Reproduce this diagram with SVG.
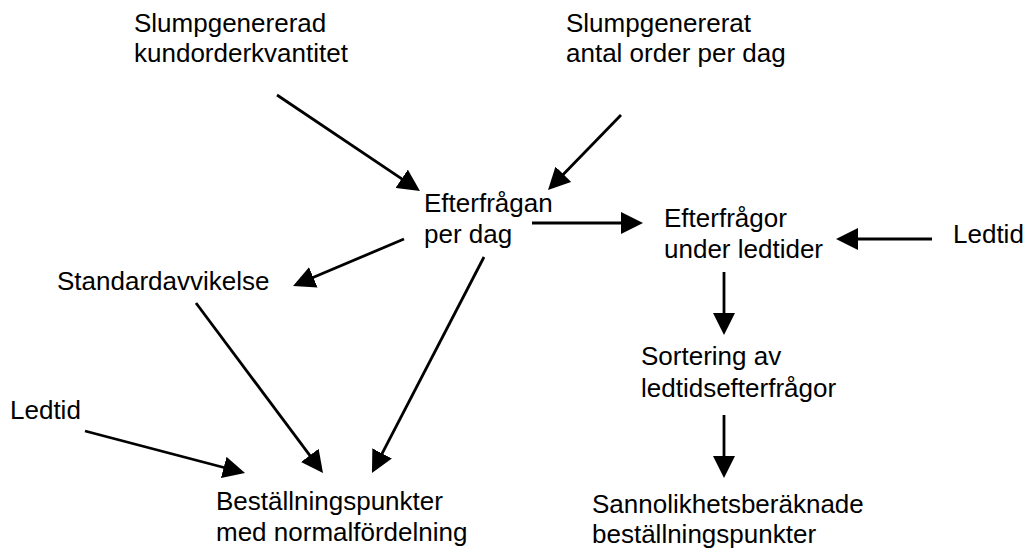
<svg xmlns="http://www.w3.org/2000/svg" width="1027" height="549" viewBox="0 0 1027 549">
<style>
text{font-family:"Liberation Sans",Arial,sans-serif;font-size:26px;fill:#000}
.c line{stroke:#000;stroke-width:2.8;marker-end:url(#ah)}
</style>
<defs>
<marker id="ah" markerUnits="userSpaceOnUse" viewBox="0 0 22 22" refX="10" refY="11" markerWidth="22" markerHeight="22" orient="auto">
<path d="M0,0 L22,11 L0,22 z" fill="#000"/>
</marker>
</defs>
<rect width="1027" height="549" fill="#fff"/>
<g id="n1"><text x="134" y="31.5">Slumpgenererad</text><text x="134" y="62">kundorderkvantitet</text></g>
<g id="n2"><text x="566" y="31.5">Slumpgenererat</text><text x="566" y="62">antal order per dag</text></g>
<g id="n3"><text x="424" y="212">Efterfrågan</text><text x="424" y="243">per dag</text></g>
<g id="n4"><text x="664" y="227">Efterfrågor</text><text x="664" y="258">under ledtider</text></g>
<g id="n5"><text x="953" y="243">Ledtid</text></g>
<g id="n6"><text x="57" y="290">Standardavvikelse</text></g>
<g id="n7"><text x="641" y="365">Sortering av</text><text x="641" y="396.5">ledtidsefterfrågor</text></g>
<g id="n8"><text x="10" y="419">Ledtid</text></g>
<g id="n9"><text x="216" y="510">Beställningspunkter</text><text x="216" y="540.5">med normalfördelning</text></g>
<g id="n10"><text x="592" y="512.5">Sannolikhetsberäknade</text><text x="592" y="543">beställningspunkter</text></g>
<g id="connectors" class="c">
<line x1="277" y1="95" x2="410" y2="184.3"/>
<line x1="621" y1="115" x2="556.4" y2="181.4"/>
<line x1="404" y1="239" x2="304.1" y2="281.3"/>
<line x1="484" y1="257" x2="377.5" y2="462.3"/>
<line x1="196" y1="303" x2="315.8" y2="463.4"/>
<line x1="85" y1="431" x2="233.4" y2="470"/>
<line x1="532" y1="223" x2="631" y2="223"/>
<line x1="932" y1="239" x2="848" y2="239"/>
<line x1="724" y1="272" x2="724" y2="323"/>
<line x1="724" y1="415" x2="724" y2="466"/>
</g>
</svg>
